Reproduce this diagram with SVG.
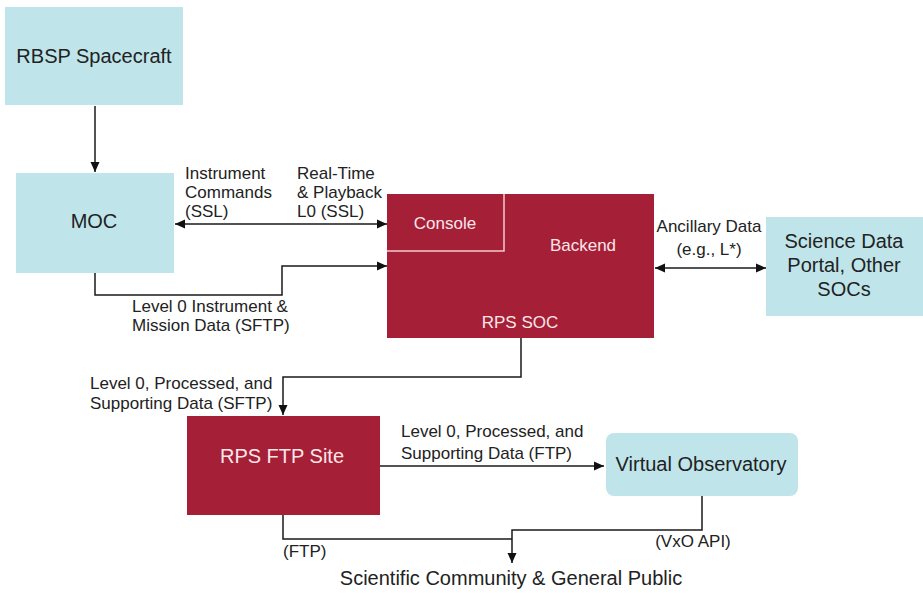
<svg xmlns="http://www.w3.org/2000/svg" width="923" height="593" viewBox="0 0 923 593">
<style>
.lb{fill:#bfe5eb}
.rd{fill:#a51f37}
text{font-family:"Liberation Sans",Arial,sans-serif;fill:#222}
.n{font-size:20px}
.l{font-size:17px}
.w{fill:#fbe6ea;font-size:17px}
.wn{fill:#fbe6ea;font-size:20px}
.c{fill:none;stroke:#1a1a1a;stroke-width:1.5}
.m{text-anchor:middle}
</style>
<defs>
<marker id="ah" viewBox="0 0 10 10" refX="10" refY="5" markerWidth="10" markerHeight="10" markerUnits="userSpaceOnUse" orient="auto-start-reverse">
<path d="M0,0.5 L10,5 L0,9.5 z" fill="#111"/>
</marker>
</defs>
<rect width="923" height="593" fill="#fff"/>

<g id="rbsp">
<rect class="lb" x="5" y="7" width="178" height="98"/>
<text class="n m" x="94" y="63">RBSP Spacecraft</text>
</g>
<g id="moc">
<rect class="lb" x="16" y="173" width="158" height="100"/>
<text class="n m" x="94" y="228">MOC</text>
</g>
<g id="soc">
<rect class="rd" x="387" y="194" width="267" height="144"/>
<path d="M387,251 H504 V194" fill="none" stroke="#f3c9d0" stroke-width="1.5"/>
<text class="w m" x="445" y="229">Console</text>
<text class="w m" x="583" y="251">Backend</text>
<text class="w m" x="520" y="328">RPS SOC</text>
</g>
<g id="science">
<rect class="lb" x="766" y="217" width="157" height="99"/>
<text class="n m" x="844" y="248">Science Data</text>
<text class="n m" x="844" y="272">Portal, Other</text>
<text class="n m" x="844" y="296">SOCs</text>
</g>
<g id="ftp">
<rect class="rd" x="187" y="416" width="193" height="99"/>
<text class="wn m" x="282" y="463">RPS FTP Site</text>
</g>
<g id="vo">
<rect class="lb" x="606" y="433" width="192" height="63" rx="8"/>
<text class="n m" x="701" y="471">Virtual Observatory</text>
</g>
<g id="public">
<text class="n m" x="511" y="585">Scientific Community &amp; General Public</text>
</g>

<g id="connectors">
<path class="c" d="M95,106 V172" marker-end="url(#ah)"/>
<path class="c" d="M175,224 H387" marker-start="url(#ah)" marker-end="url(#ah)"/>
<path class="c" d="M95,273 V295 H282 V266 H387" marker-end="url(#ah)"/>
<path class="c" d="M521,338 V377 H283 V415" marker-end="url(#ah)"/>
<path class="c" d="M655,268 H766" marker-start="url(#ah)" marker-end="url(#ah)"/>
<path class="c" d="M380,466 H604" marker-end="url(#ah)"/>
<path class="c" d="M283,515 V539 H512"/>
<path class="c" d="M702,496 V530 H512 V563" marker-end="url(#ah)"/>
</g>

<g id="labels">
<text class="l" x="185" y="179">Instrument</text>
<text class="l" x="185" y="198">Commands</text>
<text class="l" x="185" y="217">(SSL)</text>
<text class="l" x="297" y="179">Real-Time</text>
<text class="l" x="297" y="198">&amp; Playback</text>
<text class="l" x="297" y="217">L0 (SSL)</text>
<text class="l" x="132" y="312">Level 0 Instrument &amp;</text>
<text class="l" x="132" y="331">Mission Data (SFTP)</text>
<text class="l" x="90" y="389">Level 0, Processed, and</text>
<text class="l" x="90" y="409">Supporting Data (SFTP)</text>
<text class="l m" x="709" y="232">Ancillary Data</text>
<text class="l m" x="709" y="255">(e.g., L*)</text>
<text class="l" x="401" y="437">Level 0, Processed, and</text>
<text class="l" x="401" y="459">Supporting Data (FTP)</text>
<text class="l" x="283" y="557">(FTP)</text>
<text class="l m" x="693" y="547">(VxO API)</text>
</g>
</svg>
